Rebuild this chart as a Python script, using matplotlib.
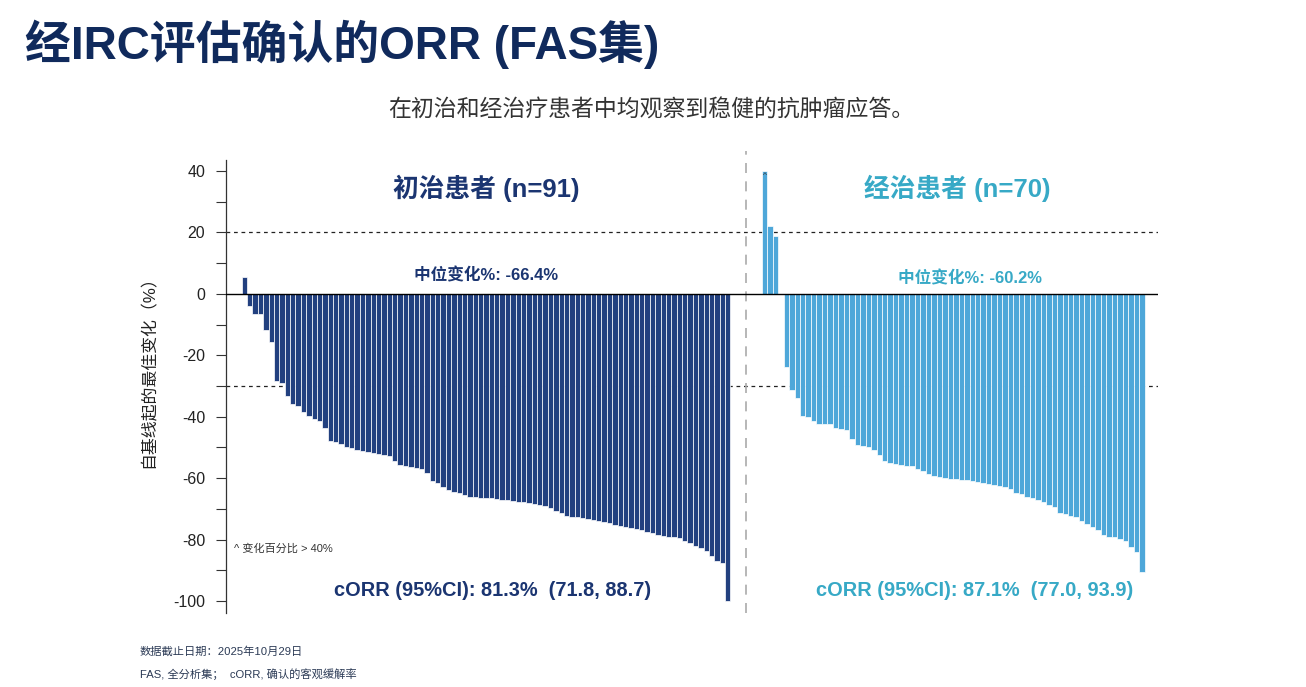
import matplotlib
matplotlib.use("Agg")
import matplotlib.pyplot as plt
import numpy as np

plt.rcParams['font.family'] = ['Liberation Sans', 'Noto Sans CJK SC', 'DejaVu Sans']
plt.rcParams['axes.unicode_minus'] = False

# ---------------- data ----------------
naive_label = "初治患者 (n=91)"
treated_label = "经治患者 (n=70)"

naive_values = [
    5.6, -4.0, -6.5, -6.5, -11.7, -15.6, -28.2, -29.0, -33.4, -36.0,
    -36.5, -38.4, -39.7, -40.8, -41.5, -43.5, -47.9, -48.2, -49.0, -49.7,
    -50.3, -50.8, -51.2, -51.5, -51.7, -52.2, -52.5, -52.8, -54.3, -55.8,
    -56.1, -56.4, -56.6, -56.9, -58.2, -60.8, -61.6, -63.0, -63.9, -64.5,
    -64.9, -65.6, -66.0, -66.2, -66.3, -66.4, -66.6, -66.8, -67.0, -67.2,
    -67.4, -67.6, -67.8, -68.1, -68.4, -68.8, -69.2, -69.6, -70.8, -71.5,
    -72.2, -72.5, -72.7, -73.0, -73.3, -73.6, -74.0, -74.3, -74.7, -75.1,
    -75.5, -75.9, -76.3, -76.7, -77.0, -77.4, -78.0, -78.6, -78.9, -79.1,
    -79.3, -79.6, -80.4, -81.2, -82.0, -82.8, -83.8, -85.5, -86.9, -87.5,
    -100.0,
]
treated_values = [
    40.0, 22.1, 18.7, 0.0, -23.8, -31.2, -33.9, -39.8, -40.1, -41.5,
    -42.2, -42.2, -42.3, -43.6, -44.0, -44.4, -47.4, -49.1, -49.4, -49.8,
    -50.7, -52.3, -54.5, -55.0, -55.3, -55.6, -55.9, -56.1, -57.0, -57.8,
    -58.8, -59.4, -59.6, -59.9, -60.2, -60.2, -60.5, -60.7, -61.0, -61.2,
    -61.5, -61.9, -62.3, -62.6, -63.0, -63.4, -64.8, -65.3, -66.0, -66.5,
    -67.0, -67.6, -68.8, -69.5, -71.2, -71.8, -72.3, -72.8, -73.8, -75.0,
    -76.0, -77.0, -78.5, -79.0, -79.3, -79.8, -80.3, -82.3, -84.0, -90.4,
]
capped_flags = [True] + [False] * 69   # '^' change > 40%

naive_median = "中位变化%: -66.4%"
treated_median = "中位变化%: -60.2%"
naive_corr = "cORR (95%CI): 81.3%  (71.8, 88.7)"
treated_corr = "cORR (95%CI): 87.1%  (77.0, 93.9)"

y_ticks = [40, 20, 0, -20, -40, -60, -80, -100]
y_minor = [30, 10, -10, -30, -50, -70, -90]
thresholds = [20, -30]

title = "经IRC评估确认的ORR (FAS集)"
subtitle = "在初治和经治疗患者中均观察到稳健的抗肿瘤应答。"
ylabel = "自基线起的最佳变化（%）"
cap_note = "^ 变化百分比 > 40%"
footnote1 = "数据截止日期：2025年10月29日"
footnote2 = "FAS, 全分析集；  cORR, 确认的客观缓解率"

# ---------------- styles ----------------
NAVY = "#22407f"
NAVY_TXT = "#1b3571"
BLUE = "#4ea7d9"
TEAL_TXT = "#37a9c6"
GRAY_TXT = "#333333"

W, H = 1306, 687
fig = plt.figure(figsize=(W / 100, H / 100), dpi=100)

ax_left_px, ax_right_px = 226, 1158
ax_top_px, ax_bot_px = 160, 613
ax = fig.add_axes([ax_left_px / W, 1 - ax_bot_px / H,
                   (ax_right_px - ax_left_px) / W, (ax_bot_px - ax_top_px) / H])

bar_px = 5.37
x0_px = 241.7
def px_to_x(p):
    return (p - x0_px) / bar_px - 0.5

n1 = len(naive_values)
x_naive = np.arange(n1)
right_start = px_to_x(759) + 0.5
rw = 5.47 / bar_px
x_treated = right_start + rw * (np.arange(len(treated_values)) + 0.5)

ax.bar(x_naive, naive_values, width=1.0, color=NAVY, edgecolor="white", linewidth=0.5, zorder=2)
ax.bar(x_treated, treated_values, width=rw, color=BLUE, edgecolor="white", linewidth=0.5, zorder=2)

for xi, v, c in zip(x_treated, treated_values, capped_flags):
    if c:
        ax.text(xi, v - 1.5, "^", ha="center", va="center", fontsize=6, color="#333333", zorder=3)

ax.set_xlim(px_to_x(ax_left_px), px_to_x(ax_right_px))
ax.set_ylim(-103.9, 43.6)

ax.axhline(0, color="black", linewidth=1.0, zorder=3)
for t in thresholds:
    ax.axhline(t, color="#222222", linewidth=0.9, linestyle=(0, (3, 3)), zorder=1)
ax.axvline(px_to_x(746), color="#aaaaaa", linewidth=1.2, linestyle=(0, (6, 5)), ymin=0.0, ymax=1.02,
           clip_on=False, zorder=1)

for s in ["top", "right", "bottom"]:
    ax.spines[s].set_visible(False)
ax.spines["left"].set_color("#333333")
ax.spines["left"].set_linewidth(0.9)
ax.set_xticks([])
ax.set_yticks(y_ticks)
ax.set_yticks(y_minor, minor=True)
ax.tick_params(axis="y", which="major", length=7, width=0.8, color="#333333",
               labelsize=11.5, labelcolor="#222222", pad=8)
ax.tick_params(axis="y", which="minor", length=7, width=0.8, color="#333333")
ax.set_ylabel(ylabel, fontsize=12.2, color="#222222")
ax.yaxis.set_label_coords((157 - ax_left_px) / (ax_right_px - ax_left_px), (613 - 368) / (613 - 160))

def fx(p):
    return p / W
def fy(p):
    return 1 - p / H

fig.text(fx(486), fy(188), naive_label, ha="center", va="center", fontsize=18.5,
         fontweight="bold", color=NAVY_TXT)
fig.text(fx(957), fy(188), treated_label, ha="center", va="center", fontsize=18.5,
         fontweight="bold", color=TEAL_TXT)
fig.text(fx(486), fy(275), naive_median, ha="center", va="center", fontsize=12,
         fontweight="bold", color=NAVY_TXT)
fig.text(fx(970), fy(278), treated_median, ha="center", va="center", fontsize=12,
         fontweight="bold", color=TEAL_TXT)
fig.text(fx(493), fy(591), naive_corr, ha="center", va="center", fontsize=14.4,
         fontweight="bold", color=NAVY_TXT)
fig.text(fx(975), fy(591), treated_corr, ha="center", va="center", fontsize=14.4,
         fontweight="bold", color=TEAL_TXT)
fig.text(fx(234), fy(549), cap_note, ha="left", va="center", fontsize=8, color=GRAY_TXT)

fig.text(fx(25), fy(44), title, ha="left", va="center", fontsize=33,
         fontweight="bold", color="#102a5c")
fig.text(fx(651), fy(110), subtitle, ha="center", va="center", fontsize=16.5, color=GRAY_TXT)
fig.text(fx(140), fy(651), footnote1, ha="left", va="center", fontsize=8.1, color="#2b3a55")
fig.text(fx(140), fy(674), footnote2, ha="left", va="center", fontsize=8.1, color="#2b3a55")

fig.savefig("out.png", dpi=100, facecolor="white")
